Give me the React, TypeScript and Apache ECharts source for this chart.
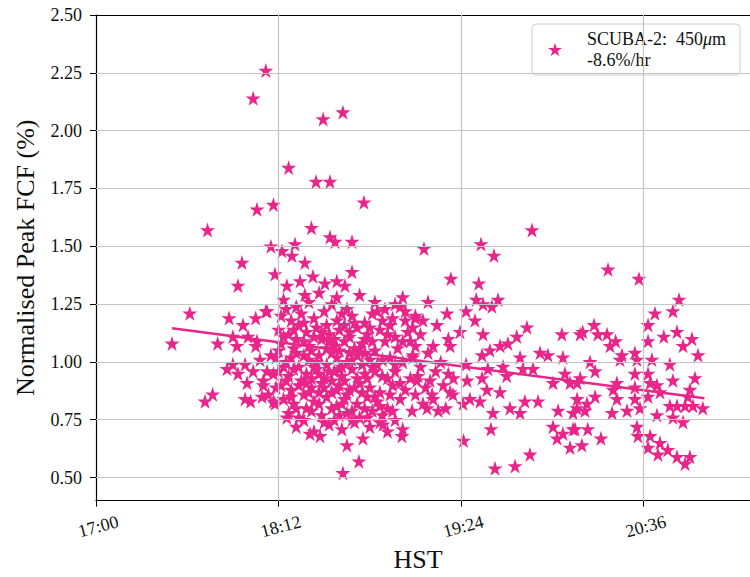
import React, { useEffect, useRef } from "react";
import * as echarts from "echarts";

// x: minutes after 17:00 HST, y: normalised peak FCF
const earlyPoints: [number, number][] = [
  [30, 1.08], [37, 1.21], [44, 1.57], [43, 0.83], [46, 0.86], [52.5, 1.19], [48, 1.08], [54, 1.11],
  [55.6, 1.07], [60, 1.11], [63.5, 1.09], [58, 1.16], [63, 1.19], [67.5, 1.22], [57.6, 1.43], [56, 1.33],
  [62, 2.14], [67, 2.26], [63.5, 1.66], [70, 1.68], [51.7, 0.97], [56, 0.95], [58.8, 0.99], [64.7, 1.01],
  [67.5, 0.96], [59.6, 0.91], [66, 0.92], [58.8, 0.84], [65.5, 0.85], [70.6, 0.82], [54, 0.99], [67, 1.22],
  [63, 1.07], [66, 0.9], [68, 0.86], [70, 0.83], [61, 0.83], [62, 0.96], [70, 0.95], [69, 1.03], [71, 0.89],
];

const outlierPoints: [number, number][] = [
  [76, 1.84], [69, 1.5], [73.4, 1.48], [78.5, 1.51], [77.3, 1.46], [85, 1.58], [92.3, 1.54], [94.3, 1.52],
  [101, 1.52], [86.8, 1.78], [92.3, 1.78], [89.6, 2.05], [97.4, 2.08], [105.7, 1.69], [82.4, 1.43],
  [70.6, 1.38], [101, 1.39], [75.3, 1.33], [80.5, 1.35], [85.6, 1.37], [90.3, 1.34], [95, 1.35], [98.2, 1.33],
  [121, 1.28], [95, 1.28], [82.4, 1.29], [111, 1.22], [117, 1.19], [126, 1.2], [118, 1.25], [122, 1.22],
  [75.3, 0.76], [84.4, 0.69], [88.4, 0.68], [99, 0.64], [103.7, 0.57], [97.4, 0.52], [105.3, 0.67],
  [113.2, 0.73], [120.7, 0.68], [121, 0.71],
];

const corePoints: [number, number][] = [
  [74, 1.27], [79, 1.24], [84, 1.26], [88, 1.3], [93, 1.25], [99, 1.23], [104, 1.29], [110, 1.26], [114, 1.23], [120, 1.24],
  [73, 1.2], [77, 1.18], [81, 1.21], [86, 1.19], [90, 1.22], [95, 1.18], [101, 1.2], [106, 1.17], [109, 1.21], [116, 1.16], [122, 1.18], [125, 1.15],
  [72, 1.14], [76, 1.12], [80, 1.16], [83, 1.13], [87, 1.15], [92, 1.12], [96, 1.14], [100, 1.11], [103, 1.15], [107, 1.12], [112, 1.14], [118, 1.11], [123, 1.13],
  [73, 1.08], [78, 1.06], [82, 1.09], [85, 1.05], [89, 1.1], [94, 1.07], [98, 1.09], [102, 1.06], [105, 1.08], [110, 1.05], [114, 1.09], [119, 1.06], [126, 1.07],
  [71, 1.02], [75, 1.0], [79, 1.04], [84, 1.01], [88, 1.03], [91, 0.99], [95, 1.02], [99, 1.0], [103, 1.03], [108, 1.01], [111, 0.99], [116, 1.02], [121, 1.0], [125, 1.03],
  [72, 0.96], [76, 0.94], [80, 0.98], [83, 0.95], [87, 0.97], [90, 0.93], [94, 0.96], [97, 0.94], [101, 0.97], [106, 0.95], [109, 0.98], [113, 0.94], [118, 0.96], [124, 0.93],
  [73, 0.9], [77, 0.88], [81, 0.92], [85, 0.89], [89, 0.91], [93, 0.87], [96, 0.9], [100, 0.88], [104, 0.91], [108, 0.89], [112, 0.87], [117, 0.9], [122, 0.88],
  [74, 0.84], [78, 0.82], [82, 0.86], [86, 0.83], [91, 0.85], [95, 0.81], [98, 0.84], [103, 0.82], [107, 0.85], [111, 0.83], [115, 0.8], [120, 0.84],
  [76, 0.78], [80, 0.76], [85, 0.79], [89, 0.77], [94, 0.75], [99, 0.78], [104, 0.76], [109, 0.79], [113, 0.77], [118, 0.75],
  [79, 0.72], [86, 0.7], [92, 0.73], [97, 0.71], [102, 0.74], [108, 0.72], [115, 0.7],
  [75, 1.23], [82, 1.17], [91, 1.16], [97, 1.21], [102, 1.17], [108, 1.15], [113, 1.18],
  [74, 1.11], [79, 1.1], [86, 1.11], [92, 1.09], [96, 1.05], [100, 1.13], [106, 1.1], [115, 1.12], [121, 1.09],
  [72, 1.05], [77, 1.02], [82, 1.03], [87, 1.0], [93, 1.04], [97, 0.98], [101, 1.01], [106, 1.04], [113, 1.01], [118, 0.99],
  [74, 0.98], [78, 0.97], [85, 0.93], [88, 0.95], [92, 0.96], [98, 0.92], [103, 0.93], [110, 0.96], [115, 0.93], [120, 0.91],
  [75, 0.92], [80, 0.9], [84, 0.87], [90, 0.89], [95, 0.88], [99, 0.86], [105, 0.87], [110, 0.85], [116, 0.86],
  [77, 0.85], [83, 0.8], [88, 0.82], [93, 0.8], [97, 0.82], [101, 0.79], [106, 0.8], [112, 0.81], [117, 0.79],
  [82, 0.75], [90, 0.74], [96, 0.77], [101, 0.75], [107, 0.76], [112, 0.74],
  [78, 1.14], [84, 1.07], [89, 1.13], [94, 1.1], [98, 1.16], [104, 1.06], [109, 1.09], [86, 0.98], [91, 1.06],
  [96, 0.97], [100, 1.04], [105, 0.99], [83, 0.91], [88, 0.87], [93, 0.92], [102, 0.89], [107, 0.93], [79, 0.8],
];

const midPoints: [number, number][] = [
  [129.4, 1.49], [151.9, 1.51], [157, 1.46], [172, 1.57], [140, 1.36], [151, 1.34], [150, 1.27], [158.6, 1.27],
  [156.2, 1.24], [152.7, 1.25], [131, 1.26], [126, 1.19], [129, 1.18], [134.5, 1.16], [138.5, 1.21], [146, 1.22],
  [149.5, 1.18], [143.6, 1.13], [152.7, 1.12], [139, 1.1], [139.7, 1.07], [170, 1.15], [166, 1.11], [162.5, 1.08],
  [159.4, 1.07], [183.8, 1.12], [191, 1.12], [155.4, 1.05], [152.3, 1.03], [154.6, 0.97], [152.3, 0.93], [160.6, 0.98],
  [162, 0.94], [168.4, 0.97], [172.4, 0.97], [175.2, 1.04], [178.3, 1.03], [167.3, 1.02], [184.2, 1.02], [185, 0.95],
  [189.8, 0.91], [180.3, 0.91], [146, 0.99], [146.4, 0.92], [139, 0.95], [131.8, 0.92], [126.6, 0.92], [132.6, 0.86],
  [139.7, 0.87], [140.8, 0.86], [147.5, 0.84], [151.5, 0.83], [156.6, 0.78], [163.3, 0.8], [167.3, 0.78], [169.2, 0.83],
  [174.4, 0.83], [154.2, 0.88], [159.4, 0.87], [138, 0.8], [124.7, 0.79], [130.6, 0.8], [144.8, 0.82], [155.8, 0.71],
  [145, 0.66], [157.4, 0.54], [165.3, 0.55], [171.2, 0.6], [180.3, 0.72], [184.2, 0.69], [188.2, 0.71], [181.9, 0.67],
  [187, 0.63], [189.8, 0.8], [182.3, 0.79],
  [125, 1.02], [128, 0.98], [131, 1.04], [134, 0.96], [127, 0.94], [130, 0.89], [136, 1.0], [133, 0.84], [126, 0.86],
  [129, 0.82], [137, 0.9], [141, 0.93], [124, 1.09], [128, 1.12], [133, 1.07], [135, 0.79],
];

const latePoints: [number, number][] = [
  [202, 1.4], [214.2, 1.36], [230, 1.27], [227.6, 1.22], [220.5, 1.21], [217.8, 1.16], [217.8, 1.09], [224, 1.11],
  [229.2, 1.13], [231.6, 1.07], [235.1, 1.1], [237.5, 1.03], [192, 1.13], [196.5, 1.16], [198, 1.12], [201.6, 1.12],
  [202.8, 1.07], [205, 1.09], [207.5, 1.03], [212.6, 1.04], [213.4, 1.01], [206.7, 1.01], [194.9, 1.0], [196.9, 0.96],
  [191, 0.93], [187, 0.91], [212.6, 0.95], [217.8, 0.95], [219.3, 1.01], [226.4, 0.99], [227.6, 0.92], [236.3, 0.93],
  [205.5, 0.91], [204, 0.88], [212.6, 0.89], [218.6, 0.91], [221.3, 0.9], [222.5, 0.87], [234.3, 0.88], [233.5, 0.85],
  [189.8, 0.84], [193.7, 0.82], [196.9, 0.85], [205.5, 0.84], [212.6, 0.84], [217.8, 0.85], [226.4, 0.81], [229.2, 0.81],
  [232.4, 0.81], [235.5, 0.81], [239.4, 0.8], [188.2, 0.78], [192.9, 0.79], [203.6, 0.78], [209.5, 0.79], [214.6, 0.8],
  [221.3, 0.77], [227.6, 0.76], [231.6, 0.74], [189, 0.71], [194, 0.71], [213.4, 0.72], [213.8, 0.68], [218.6, 0.68],
  [191.7, 0.64], [199.2, 0.67], [217.8, 0.63], [222.5, 0.65], [221.7, 0.6], [225.6, 0.62], [229.2, 0.59], [232.4, 0.56],
  [234.3, 0.59],
];

const trendLine: [number, number][] = [[30, 1.145], [240, 0.843]];

const yTicks = [0.5, 0.75, 1.0, 1.25, 1.5, 1.75, 2.0, 2.25, 2.5];
const xTicks = [0, 72, 144, 216];

const PINK = "#e8268a";
const FONT = "Liberation Serif";
const STAR =
  "path://M50,0 L61.2,34.55 L97.55,34.55 L68.2,55.9 L79.4,90.45 L50,69.1 L20.6,90.45 L31.8,55.9 L2.45,34.55 L38.8,34.55 Z";

function fmtTime(v: number): string {
  const t = 17 * 60 + Math.round(v);
  const h = Math.floor(t / 60);
  const m = t % 60;
  return `${h}:${m < 10 ? "0" + m : m}`;
}

export default function App() {
  const ref = useRef<HTMLDivElement>(null);
  useEffect(() => {
    if (!ref.current) return;
    const chart = echarts.init(ref.current, undefined, { renderer: "svg" });
    const allPoints = [...earlyPoints, ...outlierPoints, ...corePoints, ...midPoints, ...latePoints];
    chart.setOption({
      animation: false,
      backgroundColor: "#ffffff",
      textStyle: { fontFamily: FONT },
      grid: {
        left: 96,
        top: 15,
        width: 680,
        height: 491,
        show: false,
      },
      legend: {
        left: 532,
        top: 24,
        orient: "vertical",
        data: ["scuba"],
        icon: STAR,
        itemWidth: 14,
        itemHeight: 14,
        itemGap: 0,
        padding: [6, 14, 6, 16],
        borderColor: "#cccccc",
        borderWidth: 1,
        borderRadius: 4,
        backgroundColor: "rgba(255,255,255,0.85)",
        selectedMode: false,
        formatter: () => "{t|SCUBA-2:  450}{mu|μ}{t|m}\n{t|-8.6%/hr}",
        textStyle: {
          padding: [2, 0, 2, 20],
          rich: {
            t: { fontFamily: FONT, fontSize: 18, color: "#111", lineHeight: 21 },
            mu: { fontFamily: FONT, fontSize: 18, color: "#111", fontStyle: "italic", lineHeight: 21 },
          },
        },
      },
      xAxis: [
        {
          type: "value",
          min: 0,
          max: 268.27,
          interval: 72,
          name: "HST",
          nameLocation: "middle",
          nameGap: 44,
          nameTextStyle: { fontFamily: FONT, fontSize: 26, color: "#111", padding: [0, 36, 0, 0] },
          axisLine: { lineStyle: { color: "#000", width: 1.2 } },
          axisTick: { show: true, length: 6, lineStyle: { color: "#000" }, customValues: xTicks },
          axisLabel: {
            customValues: xTicks,
            formatter: (v: number) => fmtTime(v),
            rotate: 15,
            align: "center",
            verticalAlign: "top",
            margin: 17,
            fontFamily: FONT,
            fontSize: 18,
            color: "#111",
          },
          splitLine: { show: false },
        },
        {
          type: "value",
          position: "top",
          min: 0,
          max: 268.27,
          interval: 72,
          axisLine: { show: true, onZero: false, lineStyle: { color: "#000", width: 1.2 } },
          axisTick: { show: false },
          axisLabel: { show: false },
          splitLine: { show: false },
        },
      ],
      yAxis: {
        type: "value",
        min: 0.4,
        max: 2.5,
        name: "Normalised Peak FCF (%)",
        nameLocation: "middle",
        nameGap: 58,
        nameTextStyle: { fontFamily: FONT, fontSize: 26, color: "#111" },
        axisLine: { show: true, lineStyle: { color: "#000", width: 1.2 } },
        axisTick: { show: true, length: 6, lineStyle: { color: "#000" }, customValues: yTicks },
        axisLabel: {
          customValues: yTicks,
          formatter: (v: number) => v.toFixed(2),
          margin: 14,
          fontFamily: FONT,
          fontSize: 18,
          color: "#111",
        },
        splitLine: { show: false },
      },
      series: [
        {
          type: "line",
          name: "grid",
          data: [],
          z: 0,
          silent: true,
          markLine: {
            silent: true,
            symbol: "none",
            label: { show: false },
            lineStyle: { color: "#c4c4c4", width: 1.2, type: "solid" },
            emphasis: { disabled: true },
            data: [
              ...yTicks.slice(0, -1).map((v) => ({ yAxis: v })),
              ...xTicks.slice(1).map((v) => ({ xAxis: v })),
            ],
          },
        },
        {
          type: "scatter",
          name: "scuba",
          data: allPoints,
          symbol: STAR,
          symbolSize: 15,
          itemStyle: { color: PINK, opacity: 1 },
          emphasis: { disabled: true },
          z: 2,
        },
        {
          type: "line",
          name: "trend",
          data: trendLine,
          showSymbol: false,
          symbol: "none",
          lineStyle: { color: PINK, width: 2.5 },
          emphasis: { disabled: true },
          z: 3,
        },
      ],
    });
    return () => chart.dispose();
  }, []);
  return (
    <div style={{ position: "absolute", left: 0, top: 0, width: 750, height: 577, overflow: "hidden" }}>
      <div ref={ref} style={{ width: 790, height: 577 }} />
    </div>
  );
}
